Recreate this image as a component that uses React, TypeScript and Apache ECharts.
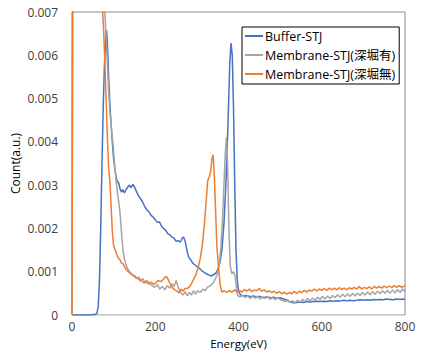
import React, { useEffect, useRef } from "react";
import * as echarts from "echarts";

const seriesNames = ["Buffer-STJ", "Membrane-STJ(深堀有)", "Membrane-STJ(深堀無)"];
const xTicks = [0, 200, 400, 600, 800];
const yTicks = [0, 0.001, 0.002, 0.003, 0.004, 0.005, 0.006, 0.007];

const bufferData: [number, number][] = [
  [0, 0], [20, 0], [40, 0], [55, 0.00001], [60, 0.00004], [63, 0.0002], [66, 0.0008], [69, 0.002],
  [72, 0.0035], [75, 0.0048], [78, 0.0058], [81, 0.0064], [83, 0.00658], [85, 0.0063], [88, 0.0055],
  [92, 0.0047], [96, 0.0041], [100, 0.0036], [104, 0.0033], [108, 0.0031], [112, 0.00305], [116, 0.0029],
  [119, 0.00284], [122, 0.0029], [126, 0.00282], [130, 0.0029], [134, 0.00296], [138, 0.003], [142, 0.00294],
  [146, 0.00302], [150, 0.00296], [155, 0.00285], [160, 0.00275], [165, 0.00268], [170, 0.0026], [175, 0.0025],
  [180, 0.00243], [185, 0.00238], [190, 0.0023], [195, 0.00226], [200, 0.0022], [205, 0.00214], [210, 0.00215],
  [215, 0.00205], [220, 0.002], [225, 0.00196], [230, 0.00188], [235, 0.00185], [240, 0.0018], [245, 0.00178],
  [250, 0.0017], [255, 0.00172], [260, 0.00168], [265, 0.00178], [268, 0.0018], [272, 0.0017], [276, 0.0015],
  [280, 0.00134], [285, 0.00128], [290, 0.0012], [295, 0.00116], [300, 0.00112], [305, 0.00109], [310, 0.00104],
  [315, 0.001], [320, 0.00097], [325, 0.00094], [330, 0.00092], [335, 0.0009], [340, 0.00093], [345, 0.00096],
  [350, 0.00104], [355, 0.0012], [360, 0.0015], [365, 0.0021], [370, 0.0031], [375, 0.0045], [379, 0.0058],
  [382, 0.00628], [385, 0.006], [388, 0.0048], [391, 0.003], [394, 0.0015], [397, 0.0008], [400, 0.00055],
  [405, 0.00046], [412, 0.00044], [420, 0.00045], [428, 0.00042], [436, 0.00044], [444, 0.00041], [452, 0.00043],
  [460, 0.0004], [468, 0.00042], [476, 0.0004], [484, 0.00041], [492, 0.00039], [500, 0.0004], [508, 0.00037],
  [516, 0.00034], [524, 0.0003], [532, 0.00028], [540, 0.00029], [548, 0.0003], [556, 0.00029], [564, 0.00031],
  [572, 0.0003], [580, 0.00031], [588, 0.00032], [596, 0.00031], [604, 0.00032], [612, 0.00031], [620, 0.00033],
  [628, 0.00032], [636, 0.00033], [644, 0.00032], [652, 0.00034], [660, 0.00033], [668, 0.00034], [676, 0.00033],
  [684, 0.00034], [692, 0.00035], [700, 0.00034], [708, 0.00035], [716, 0.00034], [724, 0.00036], [732, 0.00035],
  [740, 0.00036], [748, 0.00035], [756, 0.00037], [764, 0.00036], [772, 0.00035], [780, 0.00037], [788, 0.00036],
  [796, 0.00037], [800, 0.00036],
];

const deepData: [number, number][] = [
  [0, 0], [2, 0.009], [70, 0.009], [75, 0.0075], [80, 0.0068], [85, 0.0058], [88, 0.0052], [91, 0.0047],
  [95, 0.0043], [99, 0.0039], [103, 0.0034], [107, 0.003], [111, 0.0027], [115, 0.0024], [119, 0.0019],
  [123, 0.00145], [127, 0.00125], [132, 0.0011], [137, 0.00102], [142, 0.00096], [147, 0.00092], [152, 0.0009],
  [156, 0.00084], [160, 0.00088], [165, 0.0008], [170, 0.00084], [175, 0.00076], [180, 0.0008], [187, 0.00072],
  [193, 0.00068], [199, 0.00064], [205, 0.0007], [211, 0.0006], [217, 0.00066], [223, 0.00058], [229, 0.00068],
  [235, 0.00062], [240, 0.00072], [245, 0.00066], [250, 0.0008], [254, 0.00068], [258, 0.00056], [263, 0.0005],
  [267, 0.00046], [272, 0.00054], [277, 0.00044], [282, 0.00052], [287, 0.00046], [292, 0.00056], [297, 0.00048],
  [302, 0.00056], [308, 0.00052], [315, 0.0006], [320, 0.00056], [325, 0.00064], [330, 0.00066], [335, 0.0007],
  [340, 0.00075], [345, 0.00085], [350, 0.00097], [354, 0.0012], [358, 0.0016], [362, 0.0023], [365, 0.003],
  [368, 0.0037], [371, 0.0041], [374, 0.0034], [377, 0.002], [380, 0.00115], [384, 0.00095], [388, 0.001],
  [392, 0.0009], [395, 0.0006], [398, 0.00045], [404, 0.00042], [410, 0.00046], [416, 0.0004], [422, 0.00044],
  [428, 0.00038], [434, 0.00043], [440, 0.00039], [446, 0.00044], [452, 0.00037], [458, 0.00042], [464, 0.00038],
  [470, 0.00043], [476, 0.00036], [482, 0.00041], [488, 0.00035], [494, 0.0004], [500, 0.00036], [506, 0.00034],
  [512, 0.00031], [518, 0.00035], [524, 0.00029], [530, 0.00033], [536, 0.00028], [542, 0.00034], [548, 0.0003],
  [554, 0.00036], [560, 0.00031], [566, 0.00038], [572, 0.00033], [578, 0.00039], [584, 0.00034], [590, 0.00041],
  [596, 0.00036], [602, 0.00043], [608, 0.00037], [614, 0.00044], [620, 0.00038], [626, 0.00045], [632, 0.0004],
  [638, 0.00047], [644, 0.00041], [650, 0.00048], [656, 0.00042], [662, 0.00049], [668, 0.00043], [674, 0.0005],
  [680, 0.00044], [686, 0.00051], [692, 0.00045], [698, 0.00052], [704, 0.00046], [710, 0.00053], [716, 0.00047],
  [722, 0.00054], [728, 0.00048], [734, 0.00055], [740, 0.00049], [746, 0.00056], [752, 0.0005], [758, 0.00057],
  [764, 0.0005], [770, 0.00058], [776, 0.00051], [782, 0.00059], [788, 0.00052], [794, 0.0006], [800, 0.00054],
];

const noDeepData: [number, number][] = [
  [0, 0], [2, 0.009], [70, 0.009], [73, 0.0071], [76, 0.0066], [79, 0.0058], [82, 0.005], [85, 0.0041],
  [88, 0.0034], [91, 0.0031], [94, 0.0025], [97, 0.0019], [100, 0.0016], [104, 0.0015], [108, 0.00138],
  [111, 0.00132], [115, 0.00128], [119, 0.0012], [123, 0.00118], [127, 0.0011], [131, 0.00104], [135, 0.001],
  [139, 0.00097], [143, 0.00094], [148, 0.0009], [153, 0.00086], [158, 0.00084], [163, 0.0008], [168, 0.00078],
  [173, 0.00074], [178, 0.00076], [184, 0.00072], [190, 0.00076], [196, 0.00071], [202, 0.00075], [208, 0.0008],
  [214, 0.00077], [219, 0.00082], [224, 0.00088], [228, 0.00088], [232, 0.0008], [237, 0.0007], [242, 0.00062],
  [247, 0.00058], [252, 0.00055], [257, 0.00051], [262, 0.0006], [267, 0.00055], [272, 0.00062], [277, 0.00061],
  [283, 0.00066], [288, 0.00074], [293, 0.00084], [298, 0.00094], [303, 0.0011], [308, 0.0013], [313, 0.0016],
  [318, 0.0021], [322, 0.0026], [326, 0.0031], [330, 0.0032], [333, 0.0033], [336, 0.0036], [339, 0.0037],
  [342, 0.0032], [345, 0.0024], [348, 0.0016], [352, 0.0011], [356, 0.0007], [360, 0.00053], [366, 0.00056],
  [372, 0.00052], [378, 0.00057], [384, 0.00053], [390, 0.00058], [396, 0.00054], [402, 0.00057], [408, 0.00053],
  [414, 0.00059], [420, 0.00055], [426, 0.0006], [432, 0.00054], [438, 0.00058], [444, 0.00056], [450, 0.00061],
  [456, 0.00055], [462, 0.00058], [468, 0.00053], [474, 0.00056], [480, 0.00052], [486, 0.00055], [492, 0.0005],
  [498, 0.00054], [504, 0.00049], [510, 0.00053], [516, 0.00048], [522, 0.00052], [528, 0.00049], [534, 0.00054],
  [540, 0.0005], [546, 0.00055], [552, 0.00052], [558, 0.00057], [564, 0.00053], [570, 0.00058], [576, 0.00055],
  [582, 0.0006], [588, 0.00056], [594, 0.0006], [600, 0.00057], [606, 0.00061], [612, 0.00057], [618, 0.00062],
  [624, 0.00058], [630, 0.00062], [636, 0.00058], [642, 0.00063], [648, 0.00059], [654, 0.00062], [660, 0.00058],
  [666, 0.00063], [672, 0.0006], [678, 0.00064], [684, 0.0006], [690, 0.00066], [696, 0.0006], [702, 0.00064],
  [708, 0.00061], [714, 0.00065], [720, 0.0006], [726, 0.00066], [732, 0.00062], [738, 0.00066], [744, 0.00062],
  [750, 0.00067], [756, 0.00063], [762, 0.00067], [768, 0.00063], [774, 0.00068], [780, 0.00064], [786, 0.00068],
  [792, 0.00064], [800, 0.00068],
];

const colors = ["#4472C4", "#A5A5A5", "#ED7D31"];
const FONT = "'Open Sans', 'Noto Sans CJK JP', sans-serif";

export default function App() {
  const ref = useRef<HTMLDivElement>(null);
  useEffect(() => {
    if (!ref.current) return;
    const chart = echarts.init(ref.current, null, { renderer: "svg" });
    const datasets = [bufferData, deepData, noDeepData];
    chart.setOption({
      animation: false,
      textStyle: { fontFamily: FONT },
      grid: {
        left: 72,
        right: 20,
        top: 12,
        bottom: 36,
        containLabel: false,
        outerBoundsMode: "none",
        show: true,
        borderColor: "#8C8C8C",
        borderWidth: 1,
      },
      legend: {
        orient: "vertical",
        left: 242,
        top: 27,
        data: seriesNames,
        backgroundColor: "#fff",
        borderColor: "#000",
        borderWidth: 1,
        borderRadius: 0,
        padding: [2, 4, 3, 3],
        itemGap: 5,
        itemWidth: 18,
        itemHeight: 2,
        icon: "rect",
        textStyle: { fontSize: 12.5, color: "#000", fontFamily: FONT, lineHeight: 14, padding: [0, 0, 0, -3] },
      },
      xAxis: {
        type: "value",
        min: xTicks[0],
        max: xTicks[xTicks.length - 1],
        interval: 200,
        name: "Energy(eV)",
        nameLocation: "middle",
        nameGap: 23,
        nameMoveOverlap: false,
        nameTextStyle: { fontSize: 11.5, color: "#000", lineHeight: 11.5 },
        axisLine: { show: true, lineStyle: { color: "#D9D9D9" } },
        axisTick: { show: false },
        splitLine: { show: false },
        axisLabel: { fontSize: 12, color: "#404040", margin: 5, lineHeight: 12 },
      },
      yAxis: {
        type: "value",
        min: yTicks[0],
        max: yTicks[yTicks.length - 1],
        interval: 0.001,
        name: "Count(a.u.)",
        nameLocation: "middle",
        nameGap: 51,
        nameMoveOverlap: false,
        nameTextStyle: { fontSize: 12, color: "#000" },
        axisLine: { show: false },
        axisTick: { show: false },
        splitLine: { show: false },
        axisLabel: {
          fontSize: 12,
          color: "#404040",
          margin: 14,
          formatter: (v: number) => (v === 0 ? "0" : v.toFixed(3)),
        },
      },
      series: datasets.map((d, i) => ({
        name: seriesNames[i],
        type: "line",
        data: d,
        showSymbol: false,
        symbol: "none",
        clip: true,
        color: colors[i],
        lineStyle: { width: 1.5, color: colors[i] },
      })),
    });
    return () => chart.dispose();
  }, []);
  return (
    <div
      ref={ref}
      style={{ position: "absolute", left: 0, top: 0, width: 425, height: 351, background: "#fff" }}
    />
  );
}
